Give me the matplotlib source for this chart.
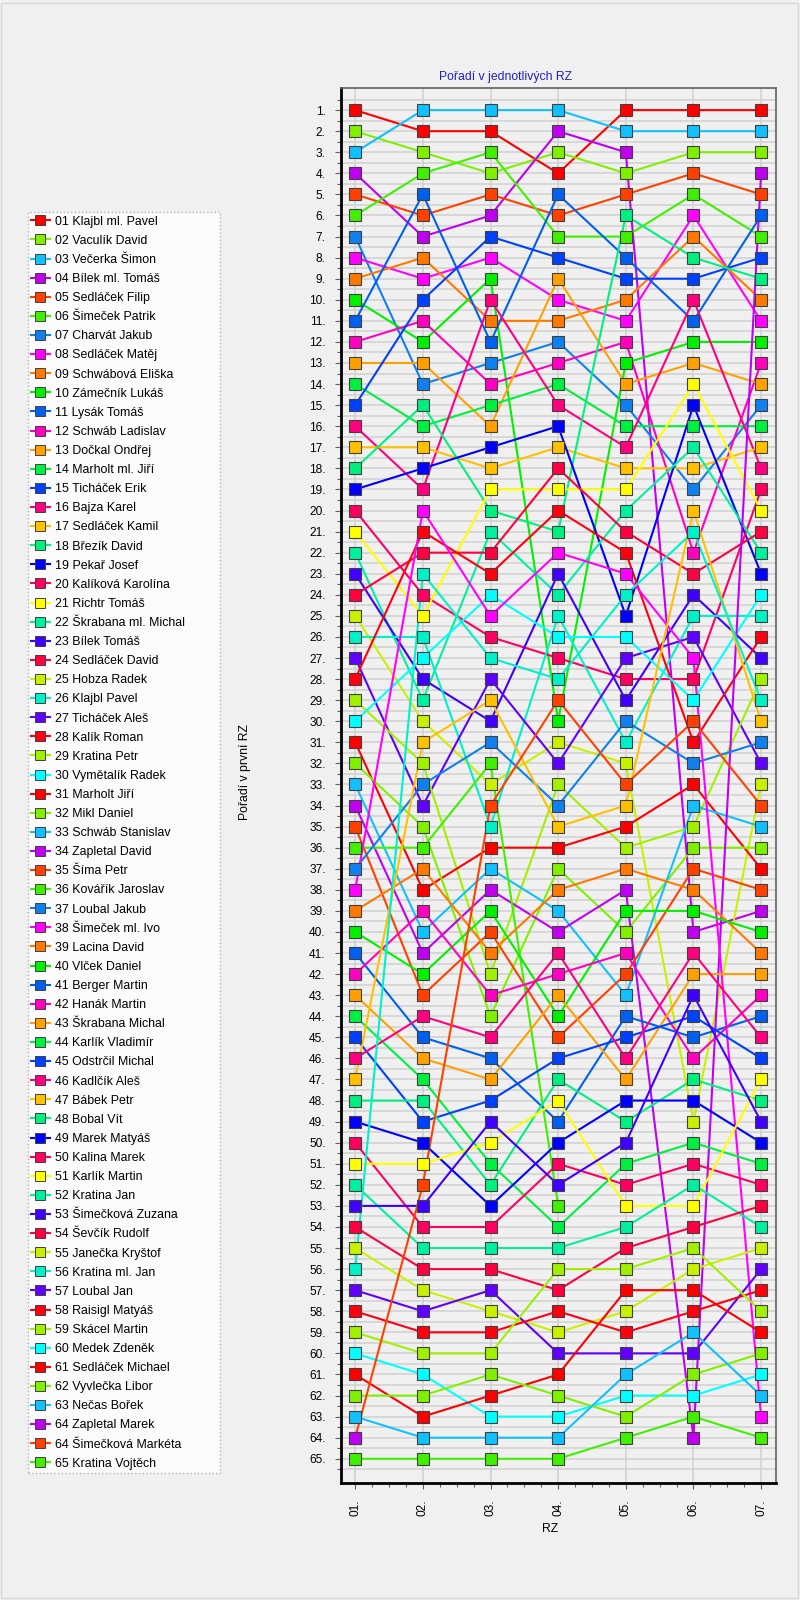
import numpy as np
import matplotlib
matplotlib.use("Agg")
import matplotlib.pyplot as plt
from matplotlib.lines import Line2D
from matplotlib.ticker import MultipleLocator, FixedLocator
from matplotlib.patches import Rectangle

plt.rcParams['font.family'] = ['Liberation Sans', 'DejaVu Sans']

nan = np.nan

stages = ["01.", "02.", "03.", "04.", "05.", "06.", "07."]

names = [
    "01 Klajbl ml. Pavel", "02 Vaculík David", "03 Večerka Šimon", "04 Bílek ml. Tomáš",
    "05 Sedláček Filip", "06 Šimeček Patrik", "07 Charvát Jakub", "08 Sedláček Matěj",
    "09 Schwábová Eliška", "10 Zámečník Lukáš", "11 Lysák Tomáš", "12 Schwáb Ladislav",
    "13 Dočkal Ondřej", "14 Marholt ml. Jiří", "15 Ticháček Erik", "16 Bajza Karel",
    "17 Sedláček Kamil", "18 Březík David", "19 Pekař Josef", "20 Kalíková Karolína",
    "21 Richtr Tomáš", "22 Škrabana ml. Michal", "23 Bílek Tomáš", "24 Sedláček David",
    "25 Hobza Radek", "26 Klajbl Pavel", "27 Ticháček Aleš", "28 Kalík Roman",
    "29 Kratina Petr", "30 Vymětalík Radek", "31 Marholt Jiří", "32 Mikl Daniel",
    "33 Schwáb Stanislav", "34 Zapletal David", "35 Šíma Petr", "36 Kovářík Jaroslav",
    "37 Loubal Jakub", "38 Šimeček ml. Ivo", "39 Lacina David", "40 Vlček Daniel",
    "41 Berger Martin", "42 Hanák Martin", "43 Škrabana Michal", "44 Karlík Vladimír",
    "45 Odstrčil Michal", "46 Kadlčík Aleš", "47 Bábek Petr", "48 Bobal Vít",
    "49 Marek Matyáš", "50 Kalina Marek", "51 Karlík Martin", "52 Kratina Jan",
    "53 Šimečková Zuzana", "54 Ševčík Rudolf", "55 Janečka Kryštof", "56 Kratina ml. Jan",
    "57 Loubal Jan", "58 Raisigl Matyáš", "59 Skácel Martin", "60 Medek Zdeněk",
    "61 Sedláček Michael", "62 Vyvlečka Libor", "63 Nečas Bořek", "64 Zapletal Marek",
    "64 Šimečková Markéta", "65 Kratina Vojtěch",
]

# rank of every competitor (same order as names) in each stage
rz1 = list(range(1, 65)) + [64, 65]
rz2 = [2, 3, 1, 7, 6, 4, 14, 9, 8, 12,
       5, 11, 13, 16, 10, 19, 17, 15, 18, 24,
       25, 29, 28, 22, 30, 26, 34, 21, 32, 27,
       38, 35, 40, 41, 43, 36, 33, 20, 37, 42,
       45, 39, 46, 47, 49, 44, 31, 48, 50, 54,
       51, 55, 53, 56, 57, 23, 58, 59, 60, 61,
       63, 62, 64, nan, 52, 65]
rz3 = [2, 4, 1, 6, 5, 3, 13, 8, 11, 9,
       12, 14, 16, 15, 7, 10, 18, 20, 17, 26,
       19, 21, 30, 22, 33, 35, 28, 23, 42, 24,
       36, 44, 37, 38, 40, 32, 31, 25, 41, 39,
       46, 43, 47, 51, 48, 45, 29, 52, 53, 54,
       50, 55, 49, 56, 58, 27, 57, 59, 60, 63,
       62, 61, 64, nan, 34, 65]
rz4 = [4, 3, 1, 2, 6, 7, 12, 10, 11, 30,
       5, 13, 9, 14, 8, 15, 17, 21, 16, 27,
       19, 24, 23, 18, 31, 25, 32, 20, 33, 26,
       36, 37, 39, 40, 45, 53, 34, 22, 38, 44,
       49, 42, 43, 54, 46, 41, 35, 47, 50, 51,
       48, 55, 52, 57, 59, 28, 60, 58, 56, 63,
       61, 62, 64, nan, 29, 65]
rz5 = [1, 4, 2, 3, 5, 7, 15, 11, 10, 13,
       8, 12, 14, 16, 9, 17, 18, 6, 25, 28,
       19, 20, 29, 21, 32, 31, 27, 22, 36, 26,
       35, 40, 43, 38, 42, nan, 30, 23, 37, 39,
       44, 41, 47, 51, 45, 46, 34, 49, 48, 52,
       53, 54, 50, 55, 58, 24, 60, 59, 56, 62,
       57, 63, 61, nan, 33, 64]
rz6 = [1, 3, 2, 40, 4, 5, 19, 6, 7, 12,
       11, 22, 13, 16, 9, 10, 18, 8, 15, 28,
       14, 17, 24, 23, 49, 25, 26, 31, 35, 29,
       33, 36, 34, 64, 37, nan, 32, 27, 38, 39,
       45, 46, 42, 50, 44, 41, 20, 47, 48, 51,
       53, 52, 43, 54, 56, 21, 60, 58, 55, 62,
       57, 61, 59, nan, 30, 63]
rz7 = [1, 3, 2, 39, 5, 7, 15, 11, 10, 12,
       6, 13, 14, 16, 8, 18, 17, 9, 23, 19,
       20, 22, 27, 21, 33, 25, 32, 26, 28, 24,
       37, 36, 35, 4, 38, nan, 31, 63, 41, 40,
       44, 43, 42, 51, 46, 45, 30, 48, 50, 52,
       47, 54, 49, 53, 55, 29, 56, 57, 58, 61,
       59, 60, 62, nan, 34, 64]

palette = [
    '#FF0000', '#80F000', '#10C0FF', '#C000F0', '#FF4000', '#40F000',
    '#1080F0', '#FF00FF', '#FF7800', '#00F000', '#0060F0', '#FF00C0',
    '#FFA000', '#00F040', '#0040FF', '#FF0080', '#FFC000', '#00F080',
    '#0000FF', '#FF0060', '#FFFF00', '#00F0A0', '#4000FF', '#FF0040',
    '#C8F000', '#00F0C8', '#6000FF', '#FF0010', '#A0F000', '#00FFFF',
]

ranks = np.array([rz1, rz2, rz3, rz4, rz5, rz6, rz7], dtype=float)  # stages x competitors
xs = np.arange(1, len(stages) + 1)

fig = plt.figure(figsize=(8, 16), dpi=100, facecolor='#F0F0F0')
ax = fig.add_axes([341 / 800, 1 - 1483 / 1600, (776 - 341) / 800, (1483 - 88) / 1600])
ax.set_facecolor('#F0F0F0')

n = len(names)
handles = []
for i in range(n):
    col = palette[i % len(palette)]
    y = ranks[:, i]
    ax.plot(xs, y, '-', color=col, lw=1.5, zorder=2, solid_capstyle='round')
    handles.append(Line2D([0], [0], color=col, lw=1.5, marker='s', markersize=6.5,
                          markerfacecolor=col, markeredgecolor='#404040', markeredgewidth=0.7))
# markers on top of all lines; 64 Šimečková under 64 Zapletal
order = list(range(n))
order.remove(64)
order.insert(0, 64)
for i in order:
    col = palette[i % len(palette)]
    ax.plot(xs, ranks[:, i], 's', color=col, markersize=8.3, markeredgecolor='#404040',
            markeredgewidth=0.8, zorder=3, linestyle='none')

ax.set_xlim(0.79, 7.22)
ax.set_ylim(66.15, -0.05)

ax.yaxis.set_major_locator(FixedLocator(np.arange(1, 66)))
ax.set_yticklabels([f"{k}." for k in range(1, 66)], fontsize=8.6)
ax.yaxis.set_minor_locator(FixedLocator(np.arange(0.5, 66.0, 1.0)))
ax.xaxis.set_major_locator(FixedLocator(xs))
ax.set_xticklabels(stages, rotation=90, fontsize=8.6, va='top')
ax.xaxis.set_minor_locator(MultipleLocator(0.25))

ax.tick_params(axis='y', which='major', length=4, width=0.8, pad=7, color='#606060')
ax.tick_params(axis='y', which='minor', length=3, width=0.8, color='#606060')
ax.tick_params(axis='x', which='major', length=4, width=0.8, pad=8, color='#606060')
ax.tick_params(axis='x', which='minor', length=3, width=0.8, color='#606060')

ax.grid(True, axis='y', which='both', color='#D2D2D2', lw=1.2, zorder=0)
ax.grid(True, axis='x', which='major', color='#D2D2D2', lw=1.2, zorder=0)
ax.set_axisbelow(True)

for side in ('left', 'bottom'):
    ax.spines[side].set_color('black')
    ax.spines[side].set_linewidth(2.0)
for side in ('top', 'right'):
    ax.spines[side].set_color('#606060')
    ax.spines[side].set_linewidth(1.2)

ax.set_title("Pořadí v jednotlivých RZ", color='#2020C8', fontsize=8.8, x=0.378, pad=6)
ax.set_xlabel("RZ", fontsize=8.8)
ax.xaxis.set_label_coords(0.48, -0.0285)
ax.set_ylabel("Pořadí v první RZ", fontsize=8.8)
ax.yaxis.set_label_coords(-0.207, 0.51)

leg_top = 1 - 212 / 1600
leg = fig.legend(handles, names, loc='upper left',
                 bbox_to_anchor=(27.5 / 800, 0.05, (220 - 27.5) / 800, leg_top - 0.05),
                 bbox_transform=fig.transFigure, mode='expand', fontsize=8.9,
                 frameon=True, fancybox=False, borderaxespad=0, borderpad=0.3,
                 labelspacing=0.575, handlelength=1.5, handletextpad=0.45,
                 facecolor='white', edgecolor='#A0A0A0')
leg.get_frame().set_linestyle(':')
leg.get_frame().set_linewidth(1.0)

fig.patches.append(Rectangle((0.001, 0.001), 0.997, 0.997, transform=fig.transFigure,
                             fill=False, edgecolor='#D8D8D8', lw=1.0))

fig.savefig("out.png", dpi=100, facecolor=fig.get_facecolor())
